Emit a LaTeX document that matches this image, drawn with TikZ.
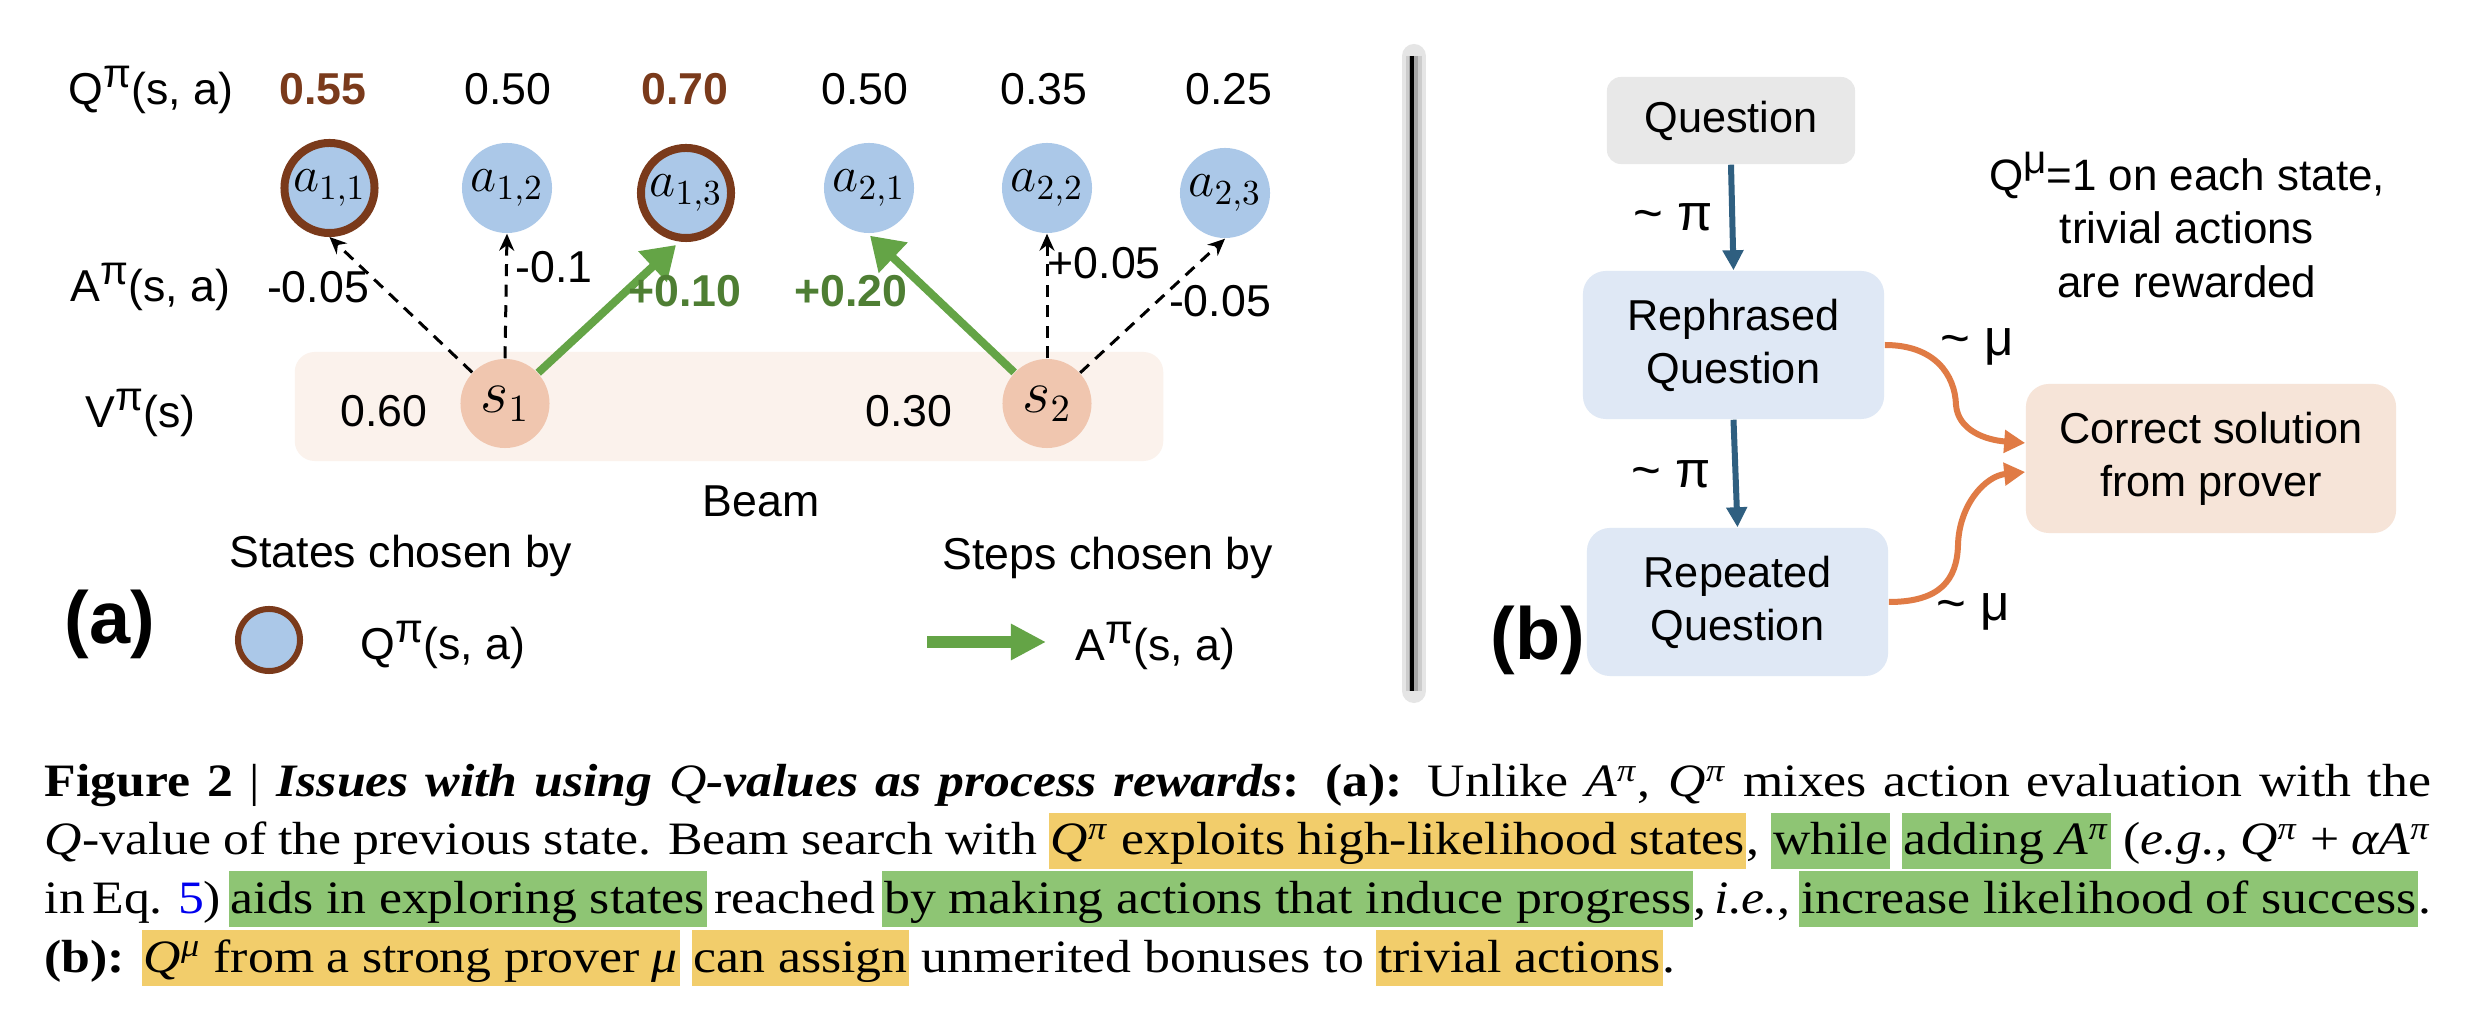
\documentclass[tikz,border=0pt]{standalone}
\usepackage{fontspec}
\setmainfont{Liberation Serif}[FakeStretch=1.115]
\newfontfamily\dsans{Liberation Sans}
\usetikzlibrary{arrows.meta,calc}
\definecolor{actc}{HTML}{ABC8E8}
\definecolor{brownc}{HTML}{7A3A1B}
\definecolor{stc}{HTML}{F0C6AF}
\definecolor{beamc}{HTML}{FBF2EC}
\definecolor{greenc}{HTML}{64A446}
\definecolor{greent}{HTML}{4E7E33}
\definecolor{qboxc}{HTML}{E8E8E8}
\definecolor{bboxc}{HTML}{DFE8F5}
\definecolor{pboxc}{HTML}{F6E4D8}
\definecolor{bluec}{HTML}{2F5F80}
\definecolor{orangec}{HTML}{E07B45}
\definecolor{hly}{HTML}{F2CD6B}
\definecolor{hlg}{HTML}{8EC574}
\definecolor{linkc}{HTML}{0000EE}
\newcommand\dfont{\dsans\fontsize{12.7}{15.2}\selectfont}
\newcommand\suppi{\raisebox{5.1pt}{\fontsize{11.5}{11.5}\selectfont π}}
\newcommand\supmu{\raisebox{4.8pt}{\fontsize{11.5}{11.5}\selectfont μ}}
\newcommand\capfont{\rmfamily\fontsize{13.2}{15}\selectfont\spaceskip=0.27em plus 0.3em minus 0.15em\relax}
\newcommand\hlstrut{\rule[-4pt]{0pt}{15.9pt}}
\newcommand\hly[1]{{\fboxsep=0pt\colorbox{hly}{\hlstrut\kern0.5pt#1\kern0.5pt}}}
\newcommand\hlg[1]{{\fboxsep=0pt\colorbox{hlg}{\hlstrut\kern0.5pt#1\kern0.5pt}}}
\newcommand\ipi{\textsuperscript{\textit{π}}}
\newcommand\brb[1]{\textbf{\textcolor{brownc}{#1}}}
\newcommand\grb[1]{\textbf{\textcolor{greent}{#1}}}
\tikzset{
  lab/.style={font=\dfont, inner sep=0, anchor=base},
  act/.style={circle, fill=actc, minimum size=0.9cm, inner sep=0, font=\fontsize{14.5}{14.5}\selectfont},
  sel/.style={act, draw=brownc, line width=0.08cm},
  st/.style={circle, fill=stc, minimum size=0.89cm, inner sep=0, font=\fontsize{16}{16}\selectfont},
  beamrect/.style={fill=beamc, rounded corners=0.2cm, minimum width=8.68cm, minimum height=1.09cm, inner sep=0},
  dashar/.style={black, line width=0.03cm, dash pattern=on 0.12cm off 0.085cm, -{Stealth[length=0.17cm,width=0.15cm]}},
  greenar/.style={greenc, line width=0.08cm, -{Triangle[length=0.32cm,width=0.40cm]}},
  bluear/.style={bluec, line width=0.06cm, -{Triangle[length=0.2cm,width=0.2cm]}},
  orangear/.style={orangec, line width=0.06cm, -{Triangle[length=0.21cm,width=0.22cm]}},
  boxtext/.style={align=center, inner sep=0, font=\dsans\fontsize{12.3}{15.1}\selectfont},
  qbox/.style={boxtext, rounded corners=0.14cm, fill=qboxc, minimum width=2.48cm, minimum height=0.87cm},
  bbox/.style={boxtext, rounded corners=0.23cm, fill=bboxc, minimum width=3.01cm, minimum height=1.48cm},
  pbox/.style={boxtext, rounded corners=0.23cm, fill=pboxc, minimum width=3.70cm, minimum height=1.49cm},
  capline/.style={anchor=base west, inner sep=0, font=\capfont}
}
\begin{document}
\begin{tikzpicture}[x=0.01cm,y=-0.01cm]
\useasboundingbox (0,0) rectangle (2478,1016);
\fill[white] (0,0) rectangle (2478,1016);

% ---------- (a) ----------
\node[beamrect] (beam) at (729,406.5) {};

\node[lab, anchor=base west] (qlab) at (68,105) {Q\suppi(s, a)};
\node[lab, anchor=base west] (alab) at (70,302) {A\suppi(s, a)};
\node[lab, anchor=base west] (vlab) at (85,428) {V\suppi(s)};

\node[lab] (q11) at (323,105) {\brb{0.55}};
\node[lab] (q12) at (508,105) {0.50};
\node[lab] (q13) at (685,105) {\brb{0.70}};
\node[lab] (q21) at (865,105) {0.50};
\node[lab] (q22) at (1044,105) {0.35};
\node[lab] (q23) at (1229,105) {0.25};

\node[sel] (a11) at (329.5,188) {$a_{1,1}$};
\node[act] (a12) at (507,188) {$a_{1,2}$};
\node[sel] (a13) at (686,193) {$a_{1,3}$};
\node[act] (a21) at (869,188) {$a_{2,1}$};
\node[act] (a22) at (1047,188) {$a_{2,2}$};
\node[act] (a23) at (1225,193) {$a_{2,3}$};

\node[st] (s1) at (505,403.5) {$s_1$};
\node[st] (s2) at (1047,403.5) {$s_2$};

\node[lab] (v1) at (384,427) {0.60};
\node[lab] (v2) at (909,427) {0.30};

\draw[dashar] (s1) -- (a11.south);
\draw[dashar] (s1.north) -- (a12.south);
\draw[greenar] (s1) -- ($(a13.south)+(-10,3)$);
\draw[greenar] (s2) -- ($(a21.south)+(1,2)$);
\draw[dashar] (s2.north) -- (a22.south);
\draw[dashar] (s2) -- (a23.south);

\node[lab] (adv11) at (318,303) {-0.05};
\node[lab, anchor=base west] (adv12) at (515,283) {-0.1};
\node[lab] (adv13) at (685,307) {\grb{+0.10}};
\node[lab] (adv21) at (851,307) {\grb{+0.20}};
\node[lab, anchor=base west] (adv22) at (1047,279) {+0.05};
\node[lab] (adv23) at (1220,317) {-0.05};

\node[lab] (beamlab) at (761,517) {Beam};

\node[lab, anchor=base west] (states) at (229,568) {States chosen by};
\node[lab, anchor=base west] (steps) at (942,570) {Steps chosen by};
\node[lab, font=\dsans\bfseries\fontsize{21}{24}\selectfont] (tagA) at (110,644) {(a)};
\node[circle, fill=actc, draw=brownc, line width=0.06cm, minimum size=0.62cm, inner sep=0] (legq) at (269,640) {};
\node[lab, anchor=base west] (legqlab) at (360,660) {Q\suppi(s, a)};
\coordinate (lgs) at (927,642);
\coordinate (lge) at (1046,642);
\draw[greenc, line width=0.12cm, -{Triangle[length=0.35cm,width=0.34cm]}] (lgs) -- (lge);
\node[lab, anchor=base west] (legalab) at (1075,661) {A\suppi(s, a)};

% ---------- separator ----------
\coordinate (septop) at (1412,56);
\coordinate (sepbot) at (1412,691);
\draw[line width=0.24cm, black!10, line cap=round] ([xshift=0.02cm]septop) -- ([xshift=0.02cm]sepbot);
\draw[line width=0.16cm, black!20] ([xshift=0.02cm]septop) -- ([xshift=0.02cm]sepbot);
\draw[line width=0.09cm, black!35] ([xshift=0.01cm]septop) -- ([xshift=0.01cm]sepbot);
\draw[line width=0.04cm, black] (septop) -- (sepbot);

% ---------- (b) ----------
\node[qbox] (question) at (1731,120.5) {Question};
\node[bbox] (rephrased) at (1733.5,345) {Rephrased\\Question};
\node[bbox] (repeated) at (1737.5,602) {Repeated\\Question};
\node[pbox] (correct) at (2211,458.5) {Correct solution\\from prover};

\draw[bluear] (question.south) -- (rephrased.north);
\draw[bluear] (rephrased.south) -- (repeated.north);

\node[lab, anchor=center, font=\dsans\fontsize{14.5}{15}\selectfont] (pi1) at (1673,217) {\textasciitilde\ π};
\node[lab, anchor=center, font=\dsans\fontsize{14.5}{15}\selectfont] (pi2) at (1671,474) {\textasciitilde\ π};

\draw[orangear] (rephrased.east) .. controls (1935,345) and (1955,375) .. (1956,405)
   .. controls (1958,430) and (1985,440) .. ([yshift=0.155cm]correct.west);
\draw[orangear] (repeated.east) .. controls (1940,602) and (1957,580) .. (1958,545)
   .. controls (1959,505) and (1985,476) .. ([yshift=-0.135cm]correct.west);

\node[lab, anchor=center, font=\dsans\fontsize{14.5}{15}\selectfont] (mu1) at (1977,347) {\textasciitilde\ μ};
\node[lab, anchor=center, font=\dsans\fontsize{14.5}{15}\selectfont] (mu2) at (1973,612) {\textasciitilde\ μ};

\node[lab, anchor=center, align=center, font=\dsans\fontsize{12.5}{15.1}\selectfont] (note) at (2187,225)
  {Q\supmu=1 on each state,\\trivial actions\\are rewarded};
\node[lab, font=\dsans\bfseries\fontsize{21}{24}\selectfont] (tagB) at (1538,660) {(b)};

% ---------- caption ----------
\node[capline] (cap1) at (44,797) {\hbox to 23.85cm{\textbf{Figure 2} | \textbf{\textit{Issues with using {\mdseries Q}-values as process rewards}:} \textbf{(a):} Unlike \textit{A}\ipi, \textit{Q}\ipi{} mixes action evaluation with the}};
\node[capline] (cap2) at (44,855) {\hbox to 23.85cm{\textit{Q}-value of the previous state. Beam search with \hly{\textit{Q}\ipi{} exploits high-likelihood states}, \hlg{while} \hlg{adding \textit{A}\ipi} (\textit{e.g.}, \textit{Q}\ipi{} + \textit{αA}\ipi}};
\node[capline] (cap3) at (44,913) {\hbox to 23.85cm{in Eq. \textcolor{linkc}{5}) \hlg{aids in exploring states} reached \hlg{by making actions that induce progress}, \textit{i.e.}, \hlg{increase likelihood of success}.}};
\node[capline] (cap4) at (44,972) {\textbf{(b):} \hly{\textit{Q}\textsuperscript{\textit{μ}} from a strong prover \textit{μ}} \hly{can assign} unmerited bonuses to \hly{trivial actions}.};
\end{tikzpicture}
\end{document}
